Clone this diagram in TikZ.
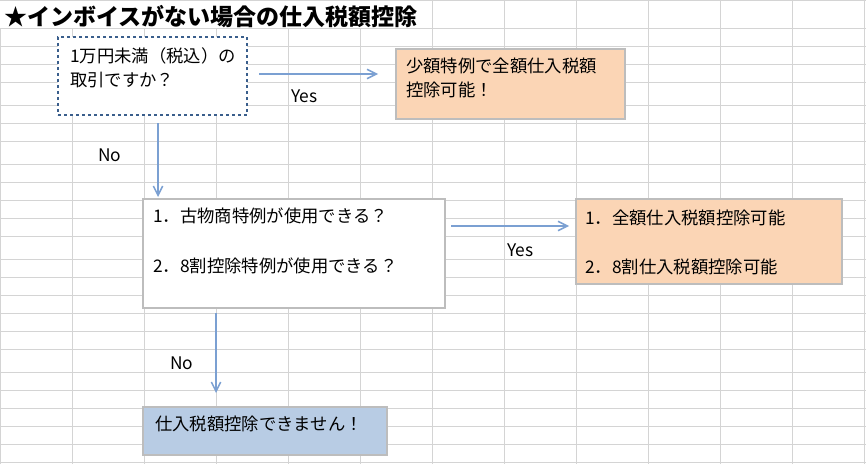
\documentclass[tikz,border=0pt]{standalone}
\usepackage{fontspec}
\setmainfont{Noto Sans CJK JP}
\usetikzlibrary{arrows.meta,fit}
\definecolor{gridc}{HTML}{D4D4D4}
\definecolor{dotc}{HTML}{3A5E8C}
\definecolor{edgec}{HTML}{BDBDBD}
\definecolor{orangec}{HTML}{FBD5B5}
\definecolor{bluec}{HTML}{B8CCE4}
\definecolor{arrowc}{HTML}{7BA0D2}
\begin{document}
\begin{tikzpicture}[x=0.75pt,y=-0.75pt,
  gridline/.style={draw=gridc,line width=0.75pt},
  boxbase/.style={rectangle,inner sep=0pt,line width=0.8pt,draw=edgec},
  dotbox/.style={rectangle,inner sep=0pt,draw=dotc,fill=white,line width=2.1pt,dash pattern=on 2.1pt off 2.4pt},
  whitebox/.style={boxbase,fill=white},
  orangebox/.style={boxbase,fill=orangec},
  bluebox/.style={boxbase,fill=bluec},
  txt/.style={inner sep=0pt,anchor=base west,font=\fontsize{13}{16}\selectfont},
  lbl/.style={inner sep=0pt,anchor=base west,font=\fontsize{13}{16}\selectfont},
  titletxt/.style={inner sep=0pt,anchor=base west,font=\fontsize{17.25}{20}\selectfont\bfseries},
  arr/.style={draw=arrowc,line width=1.1pt,-{Straight Barb[length=7pt,width=7pt]}}
]
\useasboundingbox[fill=white] (0,0) rectangle (866,464);
% grid
\foreach \yy in {0.5,28.3,46.5,64.5,82.5,105.5,123.3,141.3,164.3,182.3,200.2,218.3,236.3,259.3,277.3,295.3,313.3,331.3,349.3,372.3,390.3,408.3,426.3,444.3,462}
  \draw[gridline] (0,\yy) -- (866,\yy);
\foreach \xx in {0.5,72,144,216,288,360}
  \draw[gridline] (\xx,28.3) -- (\xx,464);
\foreach \xx in {432,504,576,648,720,792,864}
  \draw[gridline] (\xx,0) -- (\xx,464);
% title
\node[titletxt] (title) at (4,25) {★インボイスがない場合の仕入税額控除};
% boxes
\node[dotbox,fit={(58,37) (247,115)}] (b1) {};
\node[orangebox,fit={(396,49) (625,119)}] (b2) {};
\node[whitebox,fit={(143,199) (445,308)}] (b3) {};
\node[orangebox,fit={(576,199) (842,284)}] (b4) {};
\node[bluebox,fit={(143,407) (387,455)}] (b5) {};
% texts
\node[txt] (t1a) at (70,62) {1万円未満（税込）の};
\node[txt] (t1b) at (70,86) {取引ですか？};
\node[txt] (t2a) at (406,72) {少額特例で全額仕入税額};
\node[txt] (t2b) at (406,96) {控除可能！};
\node[txt] (t3a) at (153,222) {1．古物商特例が使用できる？};
\node[txt] (t3b) at (153,272) {2．8割控除特例が使用できる？};
\node[txt] (t4a) at (585,224) {1．全額仕入税額控除可能};
\node[txt] (t4b) at (585,273) {2．8割仕入税額控除可能};
\node[txt] (t5) at (155,430) {仕入税額控除できません！};
% arrows
\coordinate (a1s) at (259,74);
\coordinate (a1e) at (378,74);
\coordinate (a2s) at (158,123);
\coordinate (a2e) at (158,197);
\coordinate (a3s) at (451,226);
\coordinate (a3e) at (569,226);
\coordinate (a4s) at (216,313);
\coordinate (a4e) at (216,393);
\draw[arr] (a1s) -- (a1e);
\draw[arr] (a2s) -- (a2e);
\draw[arr] (a3s) -- (a3e);
\draw[arr] (a4s) -- (a4e);
% labels
\node[lbl] (yes1) at (291,102.5) {Yes};
\node[lbl] (no1) at (98,161) {No};
\node[lbl] (yes2) at (507,256) {Yes};
\node[lbl] (no2) at (170,369) {No};
\end{tikzpicture}
\end{document}
